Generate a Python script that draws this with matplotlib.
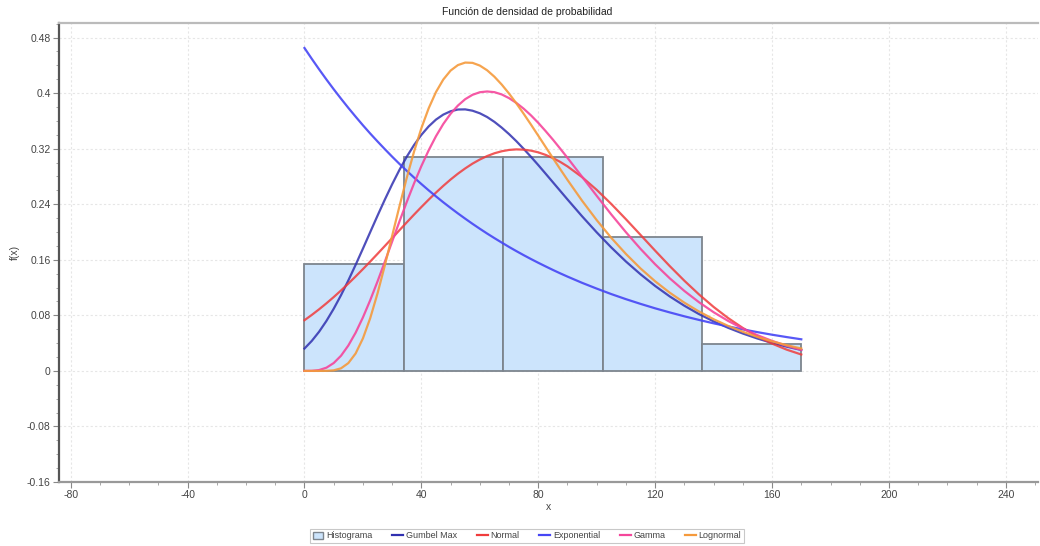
import matplotlib
matplotlib.use("Agg")
import matplotlib.pyplot as plt
from matplotlib.ticker import MultipleLocator, FuncFormatter
from matplotlib.patches import Patch
from matplotlib.lines import Line2D

plt.rcParams['font.family'] = ['Liberation Sans', 'DejaVu Sans']

# ---- data ----
bin_edges = [0, 34, 68, 102, 136, 170]
hist_heights = [0.1538, 0.3077, 0.3077, 0.1923, 0.0385]

x_curve = [0, 2.5, 5, 7.5, 10, 12.5, 15, 17.5, 20, 22.5, 25, 27.5, 30, 32.5,
           35, 37.5, 40, 42.5, 45, 47.5, 50, 52.5, 55, 57.5, 60, 62.5, 65,
           67.5, 70, 72.5, 75, 77.5, 80, 82.5, 85, 87.5, 90, 95, 100, 105,
           110, 115, 120, 125, 130, 135, 140, 145, 150, 155, 160, 165, 170]

gumbel_max = [0.0322, 0.0432, 0.0564, 0.0719, 0.0895, 0.1090, 0.1302, 0.1527,
              0.1761, 0.1999, 0.2236, 0.2467, 0.2688, 0.2895, 0.3085, 0.3253,
              0.3399, 0.3521, 0.3619, 0.3691, 0.3739, 0.3764, 0.3766, 0.3747,
              0.3710, 0.3656, 0.3586, 0.3503, 0.3410, 0.3308, 0.3198, 0.3083,
              0.2964, 0.2841, 0.2717, 0.2593, 0.2469, 0.2226, 0.1995, 0.1777,
              0.1575, 0.1391, 0.1223, 0.1072, 0.0938, 0.0818, 0.0713, 0.0620,
              0.0538, 0.0466, 0.0403, 0.0349, 0.0302]

normal = [0.0730, 0.0806, 0.0887, 0.0973, 0.1063, 0.1158, 0.1257, 0.1360,
          0.1466, 0.1575, 0.1686, 0.1799, 0.1912, 0.2026, 0.2139, 0.2251,
          0.2360, 0.2466, 0.2568, 0.2665, 0.2756, 0.2840, 0.2916, 0.2985,
          0.3044, 0.3094, 0.3134, 0.3163, 0.3182, 0.3190, 0.3186, 0.3172,
          0.3147, 0.3111, 0.3065, 0.3010, 0.2945, 0.2790, 0.2607, 0.2403,
          0.2184, 0.1958, 0.1731, 0.1509, 0.1298, 0.1101, 0.0921, 0.0760,
          0.0618, 0.0496, 0.0393, 0.0306, 0.0236]

exponential = [0.4650, 0.4494, 0.4343, 0.4197, 0.4056, 0.3920, 0.3788, 0.3661,
               0.3537, 0.3418, 0.3304, 0.3193, 0.3085, 0.2981, 0.2881, 0.2784,
               0.2691, 0.2600, 0.2513, 0.2428, 0.2347, 0.2268, 0.2192, 0.2118,
               0.2047, 0.1978, 0.1912, 0.1848, 0.1785, 0.1725, 0.1667, 0.1611,
               0.1557, 0.1505, 0.1454, 0.1405, 0.1358, 0.1268, 0.1185, 0.1106,
               0.1033, 0.0965, 0.0901, 0.0842, 0.0786, 0.0734, 0.0685, 0.0640,
               0.0598, 0.0558, 0.0521, 0.0487, 0.0455]

gamma = [0.0, 0.0001, 0.0012, 0.0046, 0.0113, 0.0218, 0.0365, 0.0550,
         0.0770, 0.1019, 0.1289, 0.1573, 0.1863, 0.2152, 0.2433, 0.2701,
         0.2950, 0.3177, 0.3380, 0.3556, 0.3703, 0.3821, 0.3913, 0.3976,
         0.4013, 0.4024, 0.4014, 0.3981, 0.3928, 0.3859, 0.3776, 0.3680,
         0.3572, 0.3454, 0.3331, 0.3201, 0.3068, 0.2795, 0.2521, 0.2252,
         0.1997, 0.1757, 0.1535, 0.1333, 0.1151, 0.0989, 0.0845, 0.0719,
         0.0609, 0.0514, 0.0432, 0.0362, 0.0302]

lognormal = [0.0, 0.0, 0.0, 0.0001, 0.0008, 0.0037, 0.0112, 0.0251,
             0.0468, 0.0760, 0.1117, 0.1519, 0.1945, 0.2371, 0.2781, 0.3159,
             0.3495, 0.3782, 0.4016, 0.4196, 0.4325, 0.4404, 0.4440, 0.4436,
             0.4397, 0.4329, 0.4236, 0.4123, 0.3994, 0.3853, 0.3703, 0.3547,
             0.3387, 0.3226, 0.3065, 0.2906, 0.2750, 0.2450, 0.2171, 0.1915,
             0.1684, 0.1475, 0.1290, 0.1126, 0.0982, 0.0855, 0.0744, 0.0647,
             0.0563, 0.0489, 0.0426, 0.0370, 0.0322]

x_ticks = [-80, -40, 0, 40, 80, 120, 160, 200, 240]
y_ticks = [-0.16, -0.08, 0, 0.08, 0.16, 0.24, 0.32, 0.4, 0.48]

title = "Función de densidad de probabilidad"
x_label = "x"
y_label = "f(x)"
legend_labels = ["Histograma", "Gumbel Max", "Normal", "Exponential", "Gamma", "Lognormal"]

# ---- styling ----
c_bar = "#cce4fc"
c_bar_edge = "#7d858e"
c_gumbel = "#3030b0"
c_normal = "#f03c3c"
c_expo = "#4646f5"
c_gamma = "#f5469b"
c_logn = "#f59a3c"

fig = plt.figure(figsize=(10.4, 5.46), dpi=100)
ax = fig.add_axes([59 / 1040, 1 - 482 / 546, (1038 - 59) / 1040, (482 - 23) / 546])

widths = [bin_edges[i + 1] - bin_edges[i] for i in range(len(hist_heights))]
ax.bar(bin_edges[:-1], hist_heights, width=widths, align='edge',
       color=c_bar, edgecolor=c_bar_edge, linewidth=1.3, zorder=2)

lw = 1.6
ax.plot(x_curve, gumbel_max, color=c_gumbel, lw=lw, alpha=0.85, zorder=3)
ax.plot(x_curve, normal, color=c_normal, lw=lw, alpha=0.85, zorder=3)
ax.plot(x_curve, exponential, color=c_expo, lw=lw, alpha=0.9, zorder=3)
ax.plot(x_curve, gamma, color=c_gamma, lw=lw, alpha=0.9, zorder=3)
ax.plot(x_curve, lognormal, color=c_logn, lw=lw, alpha=0.9, zorder=3)

ax.set_xlim(-84, 251)
ax.set_ylim(-0.16, 0.501)
ax.set_xticks(x_ticks)
ax.set_yticks(y_ticks)
ax.xaxis.set_minor_locator(MultipleLocator(10))
ax.yaxis.set_minor_locator(MultipleLocator(0.02))


def fmt(v, pos):
    s = ("%.2f" % v).rstrip('0').rstrip('.')
    if s in ("-0", ""):
        s = "0"
    return s


ax.yaxis.set_major_formatter(FuncFormatter(fmt))
ax.xaxis.set_major_formatter(FuncFormatter(lambda v, p: "%d" % v))

ax.grid(True, which='major', color='#e6e6e6', linestyle=(0, (2, 2)), linewidth=0.8, zorder=0)
ax.set_axisbelow(True)

ax.tick_params(which='major', length=4, width=0.8, color='#888888', labelsize=7.5,
               labelcolor='#444444', pad=2)
ax.tick_params(which='minor', length=2, width=0.6, color='#999999')

for side in ['left', 'bottom']:
    ax.spines[side].set_color('#555555')
    ax.spines[side].set_linewidth(1.6)
ax.spines['bottom'].set_color('#999999')
ax.spines['top'].set_color('#bbbbbb')
ax.spines['top'].set_linewidth(1.6)
ax.spines['right'].set_visible(False)

fig.text(527 / 1040, 1 - 12 / 546, title, fontsize=7.5, color='#222222',
         ha='center', va='center')
ax.set_xlabel(x_label, fontsize=7.5, color='#444444', labelpad=1)
ax.set_ylabel(y_label, fontsize=7.5, color='#444444', labelpad=5)

handles = [Patch(facecolor=c_bar, edgecolor=c_bar_edge, linewidth=1.0),
           Line2D([], [], color=c_gumbel, lw=1.6),
           Line2D([], [], color=c_normal, lw=1.6),
           Line2D([], [], color=c_expo, lw=1.6),
           Line2D([], [], color=c_gamma, lw=1.6),
           Line2D([], [], color=c_logn, lw=1.6)]
leg = fig.legend(handles, legend_labels, loc='center', bbox_to_anchor=(527 / 1040, 1 - 536 / 546),
                 ncol=6, fontsize=6.5, frameon=True, fancybox=False, handlelength=1.2,
                 handleheight=0.9, handletextpad=0.3, columnspacing=2.2, borderpad=0.3,
                 edgecolor='#bbbbbb', labelcolor='#444444')
leg.get_frame().set_linewidth(0.8)

fig.savefig("out.png", dpi=100, facecolor='white')
